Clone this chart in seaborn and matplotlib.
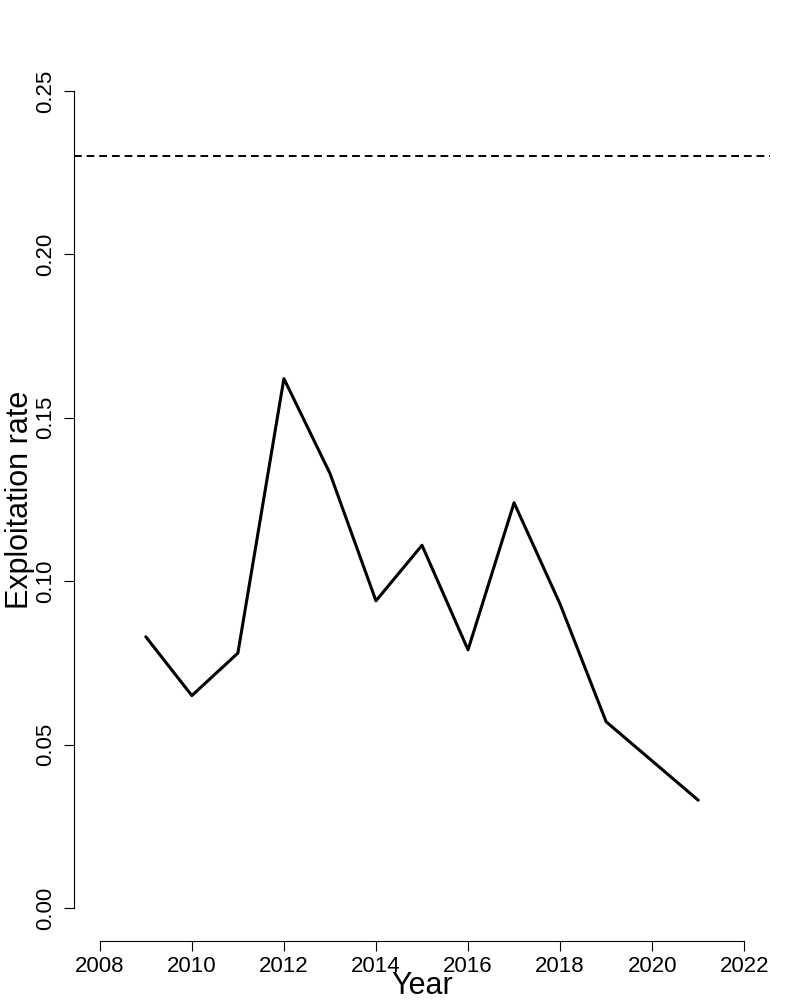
import matplotlib
matplotlib.use("Agg")
import matplotlib.pyplot as plt
import seaborn as sns
import pandas as pd

# values
years = [2009, 2010, 2011, 2012, 2013, 2014, 2015, 2016, 2017, 2018, 2019, 2020, 2021]
exploitation = [0.083, 0.065, 0.078, 0.162, 0.133, 0.094, 0.111, 0.079, 0.124, 0.093, 0.057, 0.045, 0.033]
reference_rate = 0.23
x_ticks = [2008, 2010, 2012, 2014, 2016, 2018, 2020, 2022]
y_ticks = [0.00, 0.05, 0.10, 0.15, 0.20, 0.25]

df = pd.DataFrame({"Year": years, "Exploitation rate": exploitation})

sns.set_style("white")
plt.rcParams['font.family'] = ['Liberation Sans', 'DejaVu Sans']
plt.rcParams['text.color'] = 'black'
plt.rcParams['axes.labelcolor'] = 'black'
plt.rcParams['xtick.color'] = 'black'
plt.rcParams['ytick.color'] = 'black'

fig = plt.figure(figsize=(8, 10), dpi=100)
ax = fig.add_axes([0.0925, 0.0593, 0.87, 0.8824])

sns.lineplot(data=df, x="Year", y="Exploitation rate", color="black", linewidth=2.2, ax=ax)
ax.axhline(reference_rate, color="black", linewidth=1.4, linestyle=(0, (4, 2.5)))

# R style limits: 4% padding on each side
ax.set_xlim(2008 - 0.56, 2022 + 0.56)
ax.set_ylim(-0.01, 0.26)

ax.set_xticks(x_ticks)
ax.set_yticks(y_ticks)
ax.set_yticklabels([f"{v:.2f}" for v in y_ticks], rotation=90, va="center")
ax.tick_params(axis="both", direction="out", length=7, width=0.8, labelsize=16,
               color="black", labelcolor="black", bottom=True, left=True)
ax.tick_params(axis="y", pad=6)
ax.tick_params(axis="x", pad=4)

for s in ["top", "right"]:
    ax.spines[s].set_visible(False)
ax.spines["left"].set_bounds(0.0, 0.25)
ax.spines["bottom"].set_bounds(2008, 2022)
for s in ["left", "bottom"]:
    ax.spines[s].set_linewidth(0.8)
    ax.spines[s].set_color("black")

ax.set_xlabel("Year", fontsize=22, labelpad=-4.5)
ax.set_ylabel("Exploitation rate", fontsize=22, labelpad=0)

fig.savefig("out.png", dpi=100)
